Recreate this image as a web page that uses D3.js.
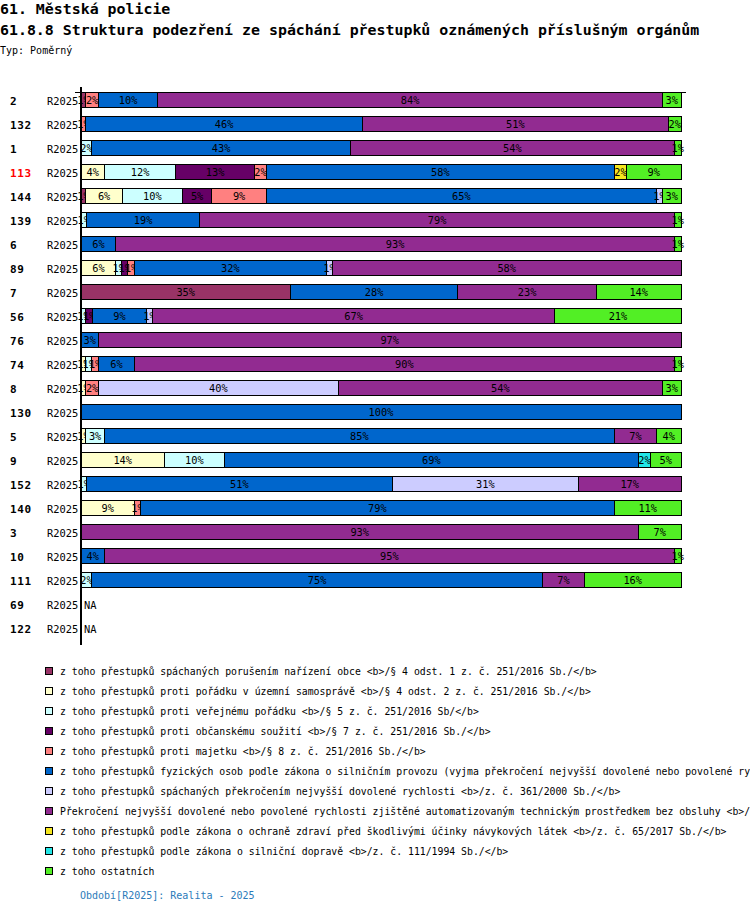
<!DOCTYPE html>
<html>
<head>
<meta charset="utf-8">
<script src="https://cdn.jsdelivr.net/npm/d3@7"></script>
<style>
  body { margin: 0; background: #fff; overflow: hidden; }
  svg { display: block; }
  text { font-family: "DejaVu Sans Mono", monospace; }
</style>
</head>
<body>
<div id="chart"></div>
<script>

// row ids and period
var rows = ["2","132","1","113","144","139","6","89","7","56","76","74","8","130","5","9","152","140","3","10","111","69","122"];
var period = "R2025";
var highlighted = "113";

// series values (%), one entry per row, null = NA
var sObce      = [0.8,0,0,0,0.8,0,0,0,34.9,0,0,0,0,0,0,0,0,0,0,0,0,null,null];
var sSamosprava= [0,0,0,3.9,6.1,0,0,5.8,0,0,0,0.8,0.8,0,0.8,13.9,0,8.9,0,0,0,null,null];
var sVerejny   = [0,0,1.8,11.9,10,0.9,0,1.0,0,0.8,0,1.0,0,0,3.1,10,0.9,0,0,0,1.8,null,null];
var sSouziti   = [0,0,0,13.1,4.9,0,0,1.0,0,1.1,0,0,0,0,0,0,0,0,0,0,0,null,null];
var sMajetek   = [2.1,0.8,0,2.0,9.1,0,0,1.1,0,0,0,1.1,2.1,0,0,0,0,1.0,0,0,0,null,null];
var sProvoz    = [9.9,46.1,43.1,58,65,18.9,5.8,32,27.9,9,2.9,6,0,100,85,69,51,79,0,3.9,75.1,null,null];
var sRychlost  = [0,0,0,0,1.0,0,0,1.0,0,1.0,0,0,40,0,0,0,31,0,0,0,0,null,null];
var sAutomat   = [84.1,51,54,0,0,79.1,93.1,58.1,23.1,67,97,90,54,0,7,0,17.1,0,92.9,95,7,null,null];
var sNavykove  = [0,0,0,2.0,0,0,0,0,0,0,0,0,0,0,0,0,0,0,0,0,0,null,null];
var sDoprava   = [0,0,0,0,0,0,0,0,0,0,0,0,0,0,0,2.0,0,0,0,0,0,null,null];
var sOstatni   = [3.1,2.1,1.1,9.1,3.1,1.1,1.1,0,14.1,21,0,1.1,3.1,0,4.1,5.1,0,11.1,7.1,1.1,16.1,null,null];

var seriesValues = [sObce, sSamosprava, sVerejny, sSouziti, sMajetek, sProvoz, sRychlost, sAutomat, sNavykove, sDoprava, sOstatni];

var seriesNames = [
  "z toho přestupků spáchaných porušením nařízení obce <b>/§ 4 odst. 1 z. č. 251/2016 Sb./</b>",
  "z toho přestupků proti pořádku v územní samosprávě <b>/§ 4 odst. 2 z. č. 251/2016 Sb./</b>",
  "z toho přestupků proti veřejnému pořádku <b>/§ 5 z. č. 251/2016 Sb/</b>",
  "z toho přestupků proti občanskému soužití <b>/§ 7 z. č. 251/2016 Sb./</b>",
  "z toho přestupků proti majetku <b>/§ 8 z. č. 251/2016 Sb./</b>",
  "z toho přestupků fyzických osob podle zákona o silničním provozu (vyjma překročení nejvyšší dovolené nebo povolené rychlosti) <b>/z. č. 361/2000 Sb./</b>",
  "z toho přestupků spáchaných překročením nejvyšší dovolené rychlosti <b>/z. č. 361/2000 Sb./</b>",
  "Překročení nejvyšší dovolené nebo povolené rychlosti zjištěné automatizovaným technickým prostředkem bez obsluhy <b>/z. č. 361/2000 Sb./</b>",
  "z toho přestupků podle zákona o ochraně zdraví před škodlivými účinky návykových látek <b>/z. č. 65/2017 Sb./</b>",
  "z toho přestupků podle zákona o silniční dopravě <b>/z. č. 111/1994 Sb./</b>",
  "z toho ostatních"
];

var seriesColors = ["#993366","#ffffcc","#ccffff","#660066","#ff8080","#0066cc","#ccccff","#922b91","#f5e61e","#22e6e6","#52ef25"];

var W = 750, H = 914;
var svg = d3.select("#chart").append("svg").attr("width", W).attr("height", H);

// titles
svg.append("text").attr("x", 0).attr("y", 14).attr("font-size", "14.9px").attr("font-weight", "bold").text("61. Městská policie");
svg.append("text").attr("x", 0).attr("y", 35).attr("font-size", "14.9px").attr("font-weight", "bold")
  .text("61.8.8 Struktura podezření ze spáchání přestupků oznámených příslušným orgánům");
svg.append("text").attr("x", 0).attr("y", 54).attr("font-size", "10px").text("Typ: Poměrný");

var x = d3.scaleLinear().domain([0, 1]).range([81, 681]);
var y = d3.scaleBand().domain(rows).range([88, 640]).paddingInner(0.375).paddingOuter(0.1875);

// top line
svg.append("line").attr("x1", 75).attr("x2", 686).attr("y1", 92).attr("y2", 92)
  .attr("stroke", "#000").attr("shape-rendering", "crispEdges");

rows.forEach(function(r, i) {
  var cy = y(r) + y.bandwidth() / 2;
  svg.append("text").attr("x", 10).attr("y", cy + 5).attr("font-size", "11px").attr("font-weight", "bold")
    .attr("letter-spacing", "0.6px")
    .attr("fill", r === highlighted ? "#ff0000" : "#000").text(r);
  svg.append("text").attr("x", 47).attr("y", cy + 5).attr("font-size", "10.4px").text(period);

  var vals = seriesValues.map(function(s) { return s[i]; });
  if (vals[0] === null) {
    svg.append("text").attr("x", 84).attr("y", cy + 5).attr("font-size", "10.4px").text("NA");
    return;
  }
  var total = d3.sum(vals);
  var acc = 0;
  vals.forEach(function(v, k) {
    if (!v) return;
    var x0 = x(acc / total), x1 = x((acc + v) / total);
    acc += v;
    var g = svg.append("g");
    g.append("rect")
      .attr("x", x0).attr("y", y(r))
      .attr("width", x1 - x0).attr("height", y.bandwidth())
      .attr("fill", seriesColors[k]).attr("stroke", "#000").attr("stroke-width", 1)
      .attr("shape-rendering", "crispEdges");
    g.append("text")
      .attr("x", (x0 + x1) / 2).attr("y", cy + 4)
      .attr("text-anchor", "middle").attr("font-size", "10.3px")
      .text(Math.round(v / total * 100) + "%");
  });
});

// left axis
svg.append("line").attr("x1", 81).attr("x2", 81).attr("y1", 87).attr("y2", 645)
  .attr("stroke", "#000").attr("stroke-width", 2).attr("shape-rendering", "crispEdges");

// legend
var leg = svg.append("g").selectAll("g").data(seriesNames).enter().append("g")
  .attr("transform", function(d, i) { return "translate(0," + (671 + i * 20) + ")"; });
leg.append("rect").attr("x", 45.5).attr("y", -3.5).attr("width", 7).attr("height", 7)
  .attr("fill", function(d, i) { return seriesColors[i]; })
  .attr("stroke", "#000").attr("shape-rendering", "crispEdges");
leg.append("text").attr("x", 60).attr("y", 4).attr("font-size", "9.8px")
  .text(function(d) { return d; });

svg.append("text").attr("x", 80).attr("y", 899).attr("font-size", "10px").attr("fill", "#2b7bba")
  .text("Období[R2025]: Realita - 2025");

</script>
</body>
</html>
